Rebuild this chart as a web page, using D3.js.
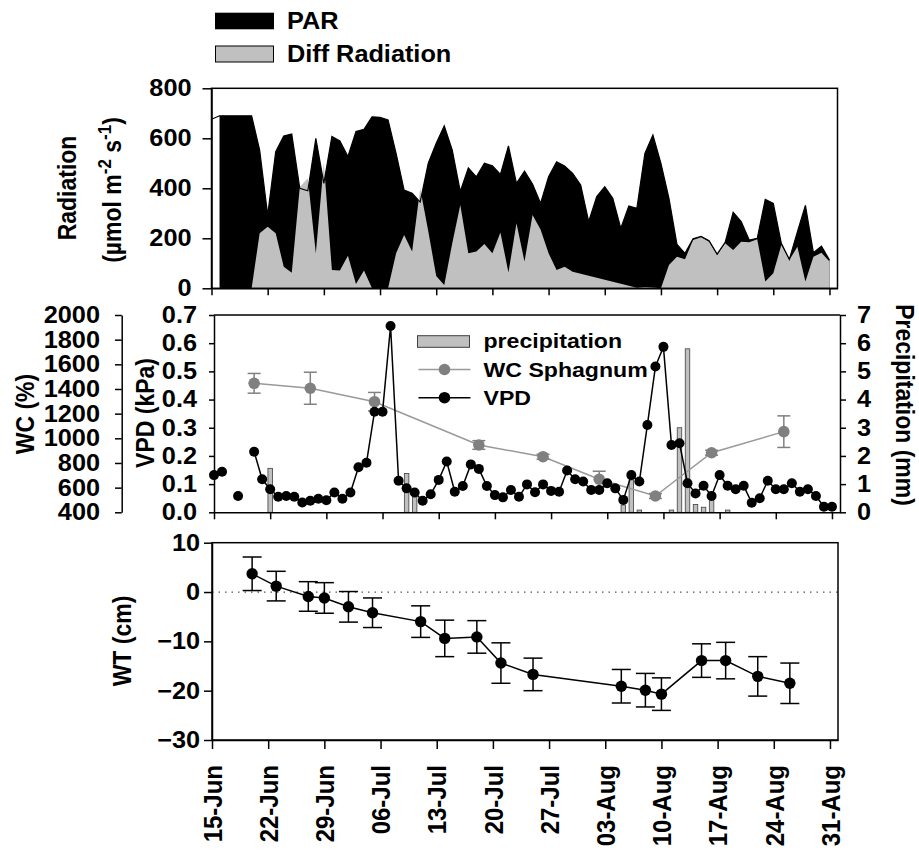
<!DOCTYPE html>
<html>
<head>
<meta charset="utf-8">
<script src="https://cdn.jsdelivr.net/npm/d3@7"></script>
<style>
  body { margin: 0; background: #fff; }
  text { font-family: "Liberation Sans", Arial, sans-serif; font-weight: bold; fill: #000; }
</style>
</head>
<body>
<svg id="chart" width="919" height="858"></svg>
<script>
// ---- data ----
const seasonStart = "15-Jun";
const seasonEnd = "01-Sep";
const tickDates = ["15-Jun", "22-Jun", "29-Jun", "06-Jul", "13-Jul", "20-Jul", "27-Jul",
  "03-Aug", "10-Aug", "17-Aug", "24-Aug", "31-Aug"];

// daily values 15-Jun .. 31-Aug (umol m-2 s-1)
const parValues = [676, 690, 690, 690, 690, 690, 553, 293, 546, 609,
  617, 400, 390, 600, 420, 607, 589, 527, 627, 636,
  686, 684, 673, 540, 393, 380, 345, 500, 580, 650,
  553, 387, 482, 446, 500, 490, 456, 570, 420, 469,
  417, 340, 446, 506, 489, 460, 413, 267, 367, 406,
  360, 240, 329, 320, 540, 613, 500, 360, 176, 140,
  198, 208, 190, 137, 184, 304, 267, 193, 200, 356,
  340, 180, 116, 226, 332, 142, 169, 113];
const diffValues = [null, null, null, null, null, 0, 220, 246, 220, 86,
  62, 405, 440, 140, 502, 73, 71, 130, 17, 71,
  0, 0, 0, 140, 213, 147, 400, 230, 49, 13,
  180, 333, 140, 147, 177, 140, 223, 63, 260, 107,
  293, 235, 140, 73, 86, 66, null, null, null, null,
  null, null, null, 2, 5, 3, 0, 93, 126, 116,
  193, 204, 186, 133, 180, 153, 186, 184, 196, 27,
  60, 173, 113, 166, 27, 126, 142, 107];
// VPD (kPa), daily
const vpdValues = [0.132, 0.144, null, 0.058, null, 0.215, 0.117, 0.082, 0.055, 0.058,
  0.055, 0.035, 0.041, 0.048, 0.043, 0.070, 0.048, 0.070, 0.160, 0.176,
  0.357, 0.357, 0.661, 0.112, 0.085, 0.070, 0.041, 0.064, 0.115, 0.180,
  0.073, 0.093, 0.170, 0.154, 0.093, 0.061, 0.053, 0.079, 0.055, 0.099,
  0.071, 0.099, 0.076, 0.073, 0.148, 0.117, 0.109, 0.079, 0.079, 0.103,
  0.085, 0.044, 0.132, 0.109, 0.310, 0.517, 0.587, 0.239, 0.245, 0.103,
  0.067, 0.094, 0.058, 0.132, 0.094, 0.082, 0.094, 0.034, 0.050, 0.112,
  0.082, 0.082, 0.103, 0.073, 0.082, 0.058, 0.020, 0.020];

const precipDates = ["22-Jun", "09-Jul", "10-Jul", "05-Aug", "06-Aug", "07-Aug", "11-Aug",
  "12-Aug", "13-Aug", "14-Aug", "15-Aug", "16-Aug", "18-Aug"];
const precipValues = [1.56, 1.38, 0.55, 0.26, 1.15, 0.08, 0.08, 3.0, 5.8, 0.28, 0.18, 0.44, 0.08];

const wcDates = ["20-Jun", "27-Jun", "05-Jul", "18-Jul", "26-Jul", "02-Aug", "09-Aug", "16-Aug", "25-Aug"];
const wcValues = [1446, 1406, 1297, 946, 851, 668, 532, 883, 1054];
const wcErrors = [80, 130, 75, 35, 20, 65, 20, 20, 128];

const wtDates = ["20-Jun", "23-Jun", "27-Jun", "29-Jun", "02-Jul", "05-Jul", "11-Jul", "14-Jul", "18-Jul",
  "21-Jul", "25-Jul", "05-Aug", "08-Aug", "10-Aug", "15-Aug", "18-Aug", "22-Aug", "26-Aug"];
const wtValues = [3.7, 1.2, -0.9, -1.2, -3.0, -4.2, -6.0, -9.4, -9.1,
  -14.4, -16.7, -19.1, -19.9, -20.7, -13.9, -13.9, -17.1, -18.5];
const wtErrors = [3.4, 3.0, 3.0, 3.1, 3.1, 3.0, 3.2, 3.7, 3.3,
  4.1, 3.3, 3.4, 3.4, 3.3, 3.4, 3.7, 4.0, 4.1];

// ---- setup ----
const parseDay = s => d3.timeParse("%d-%b-%Y")(s + "-2013");
const fmt = d3.timeFormat("%d-%b");
const day0 = parseDay(seasonStart);
const dayN = parseDay(seasonEnd);
const days = d3.timeDay.range(day0, dayN);

const svg = d3.select("#chart");

const x = d3.scaleTime().domain([day0, dayN]).range([211.5, 837.5]);
const ticks = tickDates.map(parseDay);

function styleAxis(g) {
  g.selectAll("path, line").attr("stroke", "#000").attr("stroke-width", 1.5);
  g.selectAll("text").style("font-size", "23px").attr("fill", "#000");
}

// the original figure's lettering is a little wider than Arial
function widen(sel, k) {
  sel.each(function () {
    const t = d3.select(this);
    const tr = t.attr("transform") || "";
    if (tr.includes("rotate")) {
      t.attr("transform", tr + ` scale(1,${k})`);
      return;
    }
    const xv = +(t.attr("x") || 0);
    t.attr("x", xv / k).attr("transform", `scale(${k},1)`);
  });
}

// ================= TOP PANEL: radiation =================
const yRad = d3.scaleLinear().domain([0, 800]).range([288.3, 88.3]);
const radPanel = svg.append("g");

const parData = days.map((d, i) => ({ date: d, v: parValues[i] }));
const diffData = days.map((d, i) => ({ date: d, v: diffValues[i] })).filter(d => d.v != null);

radPanel.append("path")
  .datum(parData.slice(1))
  .attr("fill", "#000")
  .attr("d", d3.area().x(d => x(d.date)).y0(yRad(0)).y1(d => yRad(d.v)));

radPanel.append("path")
  .datum(diffData)
  .attr("fill", "#c0c0c0")
  .attr("d", d3.area().x(d => x(d.date)).y0(yRad(0)).y1(d => yRad(d.v)));

radPanel.append("path")
  .datum(parData)
  .attr("fill", "none")
  .attr("stroke", "#000")
  .attr("stroke-width", 1.2)
  .attr("d", d3.line().x(d => x(d.date)).y(d => yRad(d.v)));

radPanel.append("rect")
  .attr("x", x(day0)).attr("y", yRad(800))
  .attr("width", x(dayN) - x(day0)).attr("height", yRad(0) - yRad(800))
  .attr("fill", "none").attr("stroke", "#000").attr("stroke-width", 1.5);

radPanel.append("g")
  .attr("transform", `translate(${x(day0)},0)`)
  .call(d3.axisLeft(yRad).tickValues([0, 200, 400, 600, 800]).tickSize(9).tickPadding(11).tickSizeOuter(0))
  .call(styleAxis);

radPanel.append("g")
  .attr("transform", `translate(0,${yRad(0)})`)
  .call(d3.axisBottom(x).tickValues(ticks).tickSize(7).tickSizeOuter(0).tickFormat(""))
  .call(styleAxis);

// legend
radPanel.append("rect").attr("x", 215).attr("y", 12.7).attr("width", 59).attr("height", 16.6).attr("fill", "#000");
radPanel.append("text").attr("x", 287).attr("y", 29).style("font-size", "23px").text("PAR");
radPanel.append("rect").attr("x", 215.5).attr("y", 46).attr("width", 58).attr("height", 16)
  .attr("fill", "#c0c0c0").attr("stroke", "#000").attr("stroke-width", 1);
radPanel.append("text").attr("x", 287).attr("y", 62).style("font-size", "23px").text("Diff Radiation");

// axis title
radPanel.append("text")
  .attr("transform", "translate(76,188) rotate(-90)")
  .attr("text-anchor", "middle").style("font-size", "23px")
  .text("Radiation");
const unit = radPanel.append("text")
  .attr("transform", "translate(121,190) rotate(-90)")
  .attr("text-anchor", "middle").style("font-size", "23px");
unit.append("tspan").text("(\u00b5mol m");
unit.append("tspan").attr("dy", -9).style("font-size", "17px").text("-2");
unit.append("tspan").attr("dy", 9).text(" s");
unit.append("tspan").attr("dy", -9).style("font-size", "17px").text("-1");
unit.append("tspan").attr("dy", 9).text(")");

// ================= MIDDLE PANEL: WC, VPD, precipitation =================
const mid = svg.append("g").attr("transform", "translate(2.5,0)");
const yVpd = d3.scaleLinear().domain([0, 0.7]).range([512.3, 315]);
const yWc = d3.scaleLinear().domain([400, 2000]).range([512.3, 315]);
const yPr = d3.scaleLinear().domain([0, 7]).range([512.3, 315]);

// precipitation bars
const barW = 4.5;
mid.selectAll(".bar")
  .data(precipDates.map((d, i) => ({ date: parseDay(d), v: precipValues[i] })))
  .enter().append("rect")
  .attr("x", d => x(d.date) - barW / 2)
  .attr("y", d => yPr(d.v))
  .attr("width", barW)
  .attr("height", d => yPr(0) - yPr(d.v))
  .attr("fill", "#c0c0c0").attr("stroke", "#404040").attr("stroke-width", 0.8);

// WC Sphagnum
const wcData = wcDates.map((d, i) => ({ date: parseDay(d), v: wcValues[i], e: wcErrors[i] }));
mid.append("path").datum(wcData)
  .attr("fill", "none").attr("stroke", "#999").attr("stroke-width", 1.5)
  .attr("d", d3.line().x(d => x(d.date)).y(d => yWc(d.v)));
const wcErr = mid.selectAll(".wcerr").data(wcData).enter().append("g")
  .attr("stroke", "#808080").attr("stroke-width", 1.5);
wcErr.append("line").attr("x1", d => x(d.date)).attr("x2", d => x(d.date))
  .attr("y1", d => yWc(d.v - d.e)).attr("y2", d => yWc(d.v + d.e));
wcErr.append("line").attr("x1", d => x(d.date) - 6.5).attr("x2", d => x(d.date) + 6.5)
  .attr("y1", d => yWc(d.v - d.e)).attr("y2", d => yWc(d.v - d.e));
wcErr.append("line").attr("x1", d => x(d.date) - 6.5).attr("x2", d => x(d.date) + 6.5)
  .attr("y1", d => yWc(d.v + d.e)).attr("y2", d => yWc(d.v + d.e));
mid.selectAll(".wcpt").data(wcData).enter().append("circle")
  .attr("cx", d => x(d.date)).attr("cy", d => yWc(d.v)).attr("r", 5.8).attr("fill", "#808080");

// VPD
const vpdData = days.map((d, i) => ({ date: d, v: vpdValues[i] }));
mid.append("path").datum(vpdData)
  .attr("fill", "none").attr("stroke", "#000").attr("stroke-width", 1.5)
  .attr("d", d3.line().defined(d => d.v != null).x(d => x(d.date)).y(d => yVpd(d.v)));
mid.selectAll(".vpdpt").data(vpdData.filter(d => d.v != null)).enter().append("circle")
  .attr("cx", d => x(d.date)).attr("cy", d => yVpd(d.v)).attr("r", 5).attr("fill", "#000");

// frame + axes
mid.append("line").attr("x1", x(day0)).attr("x2", x(dayN)).attr("y1", 315).attr("y2", 315)
  .attr("stroke", "#000").attr("stroke-width", 1.5);
mid.append("g").attr("transform", `translate(${x(day0)},0)`)
  .call(d3.axisLeft(yVpd).ticks(7).tickFormat(d3.format(".1f")).tickSize(5).tickPadding(12).tickSizeOuter(0))
  .call(styleAxis);
mid.append("g").attr("transform", `translate(${x(dayN)},0)`)
  .call(d3.axisRight(yPr).ticks(7).tickSize(6).tickPadding(11).tickSizeOuter(0))
  .call(styleAxis);
mid.append("g").attr("transform", `translate(0,${yVpd(0)})`)
  .call(d3.axisBottom(x).tickValues(ticks).tickSize(7).tickSizeOuter(0).tickFormat(""))
  .call(styleAxis);
mid.append("g").attr("transform", "translate(119.2,0)")
  .call(d3.axisLeft(yWc).tickValues(d3.range(400, 2001, 200)).tickFormat(d3.format("d"))
    .tickSize(6.7).tickPadding(15).tickSizeOuter(0))
  .call(styleAxis);

// legend
mid.append("rect").attr("x", 415).attr("y", 335.7).attr("width", 52).attr("height", 11.6)
  .attr("fill", "#c0c0c0").attr("stroke", "#404040").attr("stroke-width", 1);
mid.append("text").attr("x", 481).attr("y", 348.5).style("font-size", "21px").text("precipitation");
mid.append("line").attr("x1", 416).attr("x2", 468).attr("y1", 369.5).attr("y2", 369.5)
  .attr("stroke", "#999").attr("stroke-width", 1.5);
mid.append("circle").attr("cx", 442).attr("cy", 369.5).attr("r", 5.8).attr("fill", "#808080");
mid.append("text").attr("x", 481).attr("y", 377).style("font-size", "21px").text("WC Sphagnum");
mid.append("line").attr("x1", 416).attr("x2", 468).attr("y1", 397.7).attr("y2", 397.7)
  .attr("stroke", "#000").attr("stroke-width", 1.5);
mid.append("circle").attr("cx", 442).attr("cy", 397.7).attr("r", 5.8).attr("fill", "#000");
mid.append("text").attr("x", 481).attr("y", 405).style("font-size", "21px").text("VPD");

// titles
svg.append("text").attr("transform", "translate(25,414) rotate(-90)").attr("dy", "0.35em")
  .attr("text-anchor", "middle").style("font-size", "23px").text("WC (%)");
svg.append("text").attr("transform", "translate(145,413) rotate(-90)").attr("dy", "0.35em")
  .attr("text-anchor", "middle").style("font-size", "23px").text("VPD (kPa)");
svg.append("text").attr("transform", "translate(905,405) rotate(90)").attr("dy", "0.35em")
  .attr("text-anchor", "middle").style("font-size", "23px").text("Precipitation (mm)");

// ================= BOTTOM PANEL: water table =================
const bot = svg.append("g").attr("transform", "translate(0.5,0)");
const yWt = d3.scaleLinear().domain([-30, 10]).range([740, 542.7]);

bot.append("line").attr("x1", x(day0)).attr("x2", x(dayN)).attr("y1", yWt(0)).attr("y2", yWt(0))
  .attr("stroke", "#555").attr("stroke-width", 1.2).attr("stroke-dasharray", "1.5,5");

const wtData = wtDates.map((d, i) => ({ date: parseDay(d), v: wtValues[i], e: wtErrors[i] }));
bot.append("path").datum(wtData)
  .attr("fill", "none").attr("stroke", "#000").attr("stroke-width", 1.5)
  .attr("d", d3.line().x(d => x(d.date)).y(d => yWt(d.v)));
const wtErr = bot.selectAll(".wterr").data(wtData).enter().append("g")
  .attr("stroke", "#000").attr("stroke-width", 1.5);
wtErr.append("line").attr("x1", d => x(d.date)).attr("x2", d => x(d.date))
  .attr("y1", d => yWt(d.v - d.e)).attr("y2", d => yWt(d.v + d.e));
wtErr.append("line").attr("x1", d => x(d.date) - 9.5).attr("x2", d => x(d.date) + 9.5)
  .attr("y1", d => yWt(d.v - d.e)).attr("y2", d => yWt(d.v - d.e));
wtErr.append("line").attr("x1", d => x(d.date) - 9.5).attr("x2", d => x(d.date) + 9.5)
  .attr("y1", d => yWt(d.v + d.e)).attr("y2", d => yWt(d.v + d.e));
bot.selectAll(".wtpt").data(wtData).enter().append("circle")
  .attr("cx", d => x(d.date)).attr("cy", d => yWt(d.v)).attr("r", 5.7).attr("fill", "#000");

bot.append("rect")
  .attr("x", x(day0)).attr("y", yWt(10))
  .attr("width", x(dayN) - x(day0)).attr("height", yWt(-30) - yWt(10))
  .attr("fill", "none").attr("stroke", "#000").attr("stroke-width", 1.5);
bot.append("g").attr("transform", `translate(${x(day0)},0)`)
  .call(d3.axisLeft(yWt).tickValues([-30, -20, -10, 0, 10]).tickSize(8).tickPadding(4).tickSizeOuter(0))
  .call(styleAxis);
const xAxis = bot.append("g").attr("transform", `translate(0,${yWt(-30)})`)
  .call(d3.axisBottom(x).tickValues(ticks).tickSize(9).tickSizeOuter(0).tickFormat(fmt))
  .call(styleAxis);
xAxis.selectAll("text")
  .style("font-size", "24px")
  .attr("transform", "rotate(-90)")
  .attr("text-anchor", "end")
  .attr("x", -25).attr("y", 0).attr("dy", "0.35em");

svg.append("text").attr("transform", "translate(121.7,641) rotate(-90)").attr("dy", "0.35em")
  .attr("text-anchor", "middle").style("font-size", "23px").text("WT (cm)");

widen(svg.selectAll("text"), 1.1);
</script>
</body>
</html>
